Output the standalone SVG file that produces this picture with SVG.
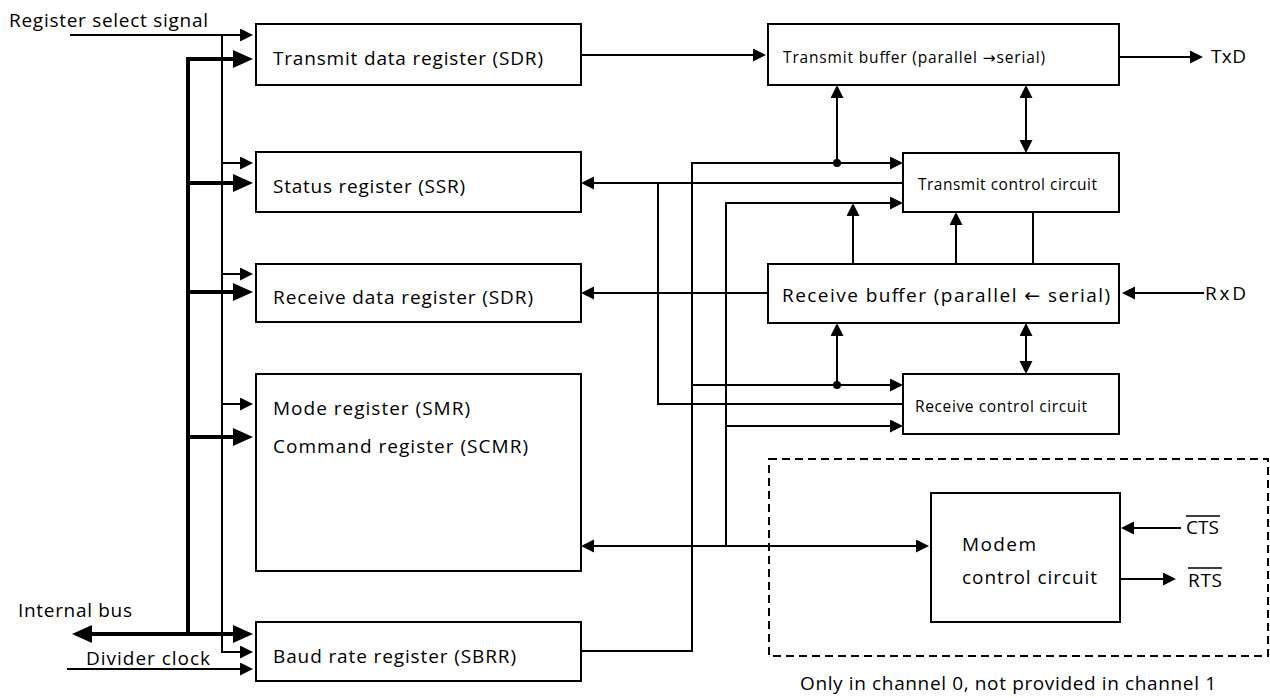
<svg xmlns="http://www.w3.org/2000/svg" width="1270" height="698" viewBox="0 0 1270 698">
<style>
.bx{fill:#fff;stroke:#000;stroke-width:2}
.t{font-family:"Open Sans","Liberation Sans",sans-serif;font-size:19px;fill:#000}
.s{font-family:"Open Sans","Liberation Sans",sans-serif;font-size:15.5px;fill:#000}
.ar{font-family:"DejaVu Sans",sans-serif}
.w{fill:none;stroke:#000;stroke-width:2}
.k{fill:none;stroke:#000;stroke-width:4}
.thin{marker-end:url(#a)}
.dbl{marker-start:url(#a);marker-end:url(#a)}
.tk{marker-end:url(#b)}
</style>
<defs>
<marker id="a" markerUnits="userSpaceOnUse" markerWidth="14" markerHeight="14" refX="10" refY="6.5" orient="auto-start-reverse" viewBox="0 0 14 14"><path d="M0,0 L13,6.5 L0,13 z" fill="#000"/></marker>
<marker id="b" markerUnits="userSpaceOnUse" markerWidth="21" markerHeight="19" refX="14" refY="9" orient="auto-start-reverse" viewBox="0 0 21 19"><path d="M0,0 L20,9 L0,18 z" fill="#000"/></marker>
</defs>

<g id="labels-left">
<text class="t" x="9" y="27" textLength="199">Register select signal</text>
<text class="t" x="18" y="617" textLength="114">Internal bus</text>
<text class="t" x="86" y="665" textLength="124">Divider clock</text>
</g>

<g id="sdr-tx"><rect class="bx" x="256" y="24" width="325" height="61"/><text class="t" x="273" y="65" textLength="270">Transmit data register (SDR)</text></g>
<g id="ssr"><rect class="bx" x="256" y="152" width="325" height="60"/><text class="t" x="273" y="193" textLength="192">Status register (SSR)</text></g>
<g id="sdr-rx"><rect class="bx" x="256" y="264" width="325" height="58"/><text class="t" x="273" y="304" textLength="260">Receive data register (SDR)</text></g>
<g id="smr"><rect class="bx" x="256" y="374" width="325" height="197"/><text class="t" x="273" y="415" textLength="197">Mode register (SMR)</text><text class="t" x="273" y="453" textLength="255">Command register (SCMR)</text></g>
<g id="sbrr"><rect class="bx" x="256" y="622" width="325" height="59"/><text class="t" x="273" y="663" textLength="243">Baud rate register (SBRR)</text></g>

<g id="tx-buffer"><rect class="bx" x="768" y="24" width="351" height="61"/><text class="s" x="783" y="63" textLength="262">Transmit buffer (parallel <tspan class="ar">→</tspan>serial)</text></g>
<g id="tx-control"><rect class="bx" x="903" y="153" width="216" height="59"/><text class="s" x="918" y="190" textLength="179">Transmit control circuit</text></g>
<g id="rx-buffer"><rect class="bx" x="768" y="264" width="351" height="59"/><text class="t" x="782" y="302" textLength="328">Receive buffer (parallel <tspan class="ar">←</tspan> serial)</text></g>
<g id="rx-control"><rect class="bx" x="903" y="374" width="216" height="60"/><text class="s" x="915" y="412" textLength="172">Receive control circuit</text></g>
<g id="modem"><rect x="769" y="459" width="499" height="197" fill="none" stroke="#000" stroke-width="2" stroke-dasharray="8,5"/><rect class="bx" x="931" y="493" width="189" height="129"/><text class="t" x="962" y="551" textLength="74">Modem</text><text class="t" x="962" y="584" textLength="135">control circuit</text></g>

<g id="labels-right">
<text class="t" x="1211" y="63" textLength="35">TxD</text>
<text class="t" x="1205" y="300" textLength="41">RxD</text>
<text class="t" x="1186" y="534" textLength="33">CTS</text><line x1="1186" y1="516" x2="1220" y2="516" stroke="#000" stroke-width="1.5"/>
<text class="t" x="1188" y="587" textLength="34">RTS</text><line x1="1188" y1="568" x2="1222" y2="568" stroke="#000" stroke-width="1.5"/>
<text class="t" x="800" y="690" textLength="416">Only in channel 0, not provided in channel 1</text>
</g>

<g id="connectors">
<line class="k" x1="188" y1="57" x2="188" y2="636"/>
<line class="k tk" x1="186" y1="59" x2="247" y2="59"/>
<line class="k tk" x1="186" y1="183" x2="247" y2="183"/>
<line class="k tk" x1="186" y1="292" x2="247" y2="292"/>
<line class="k tk" x1="186" y1="437" x2="247" y2="437"/>
<line class="k" x1="78" y1="634" x2="247" y2="634" marker-start="url(#b)" marker-end="url(#b)"/>
<line class="w thin" x1="70" y1="35" x2="250" y2="35"/>
<path class="w thin" d="M222,35 V652 H250"/>
<line class="w thin" x1="222" y1="163" x2="250" y2="163"/>
<line class="w thin" x1="222" y1="274" x2="250" y2="274"/>
<line class="w thin" x1="222" y1="404" x2="250" y2="404"/>
<line class="w thin" x1="67" y1="669" x2="250" y2="669"/>
<line class="w thin" x1="581" y1="55" x2="763" y2="55" stroke-width="1.5"/>
<line class="w thin" x1="1119" y1="57" x2="1200" y2="57" stroke-width="1.5"/>
<line class="w thin" x1="1204" y1="293" x2="1125" y2="293"/>
<line class="w thin" x1="1181" y1="528" x2="1124" y2="528"/>
<line class="w thin" x1="1120" y1="579" x2="1173" y2="579"/>
<line class="w thin" x1="768" y1="293" x2="584" y2="293"/>
<line class="w thin" x1="903" y1="183" x2="584" y2="183"/>
<path class="w" d="M903,404 H658 V183"/>
<path class="w thin" d="M581,651 H692 V163 H900"/>
<line class="w thin" x1="692" y1="385" x2="900" y2="385"/>
<path class="w thin" d="M726,546 V203 H900"/>
<line class="w thin" x1="726" y1="426" x2="900" y2="426"/>
<line class="w dbl" x1="584" y1="546" x2="926" y2="546"/>
<line class="w dbl" x1="1026" y1="88" x2="1026" y2="150"/>
<line class="w dbl" x1="1026" y1="326" x2="1026" y2="371"/>
<line class="w thin" x1="837" y1="163" x2="837" y2="88"/>
<line class="w thin" x1="837" y1="385" x2="837" y2="326"/>
<line class="w thin" x1="853" y1="264" x2="853" y2="206"/>
<line class="w thin" x1="956" y1="264" x2="956" y2="215"/>
<line class="w" x1="1033" y1="212" x2="1033" y2="264"/>
<circle cx="837" cy="163" r="4"/>
<circle cx="837" cy="385" r="4"/>
</g>
</svg>
